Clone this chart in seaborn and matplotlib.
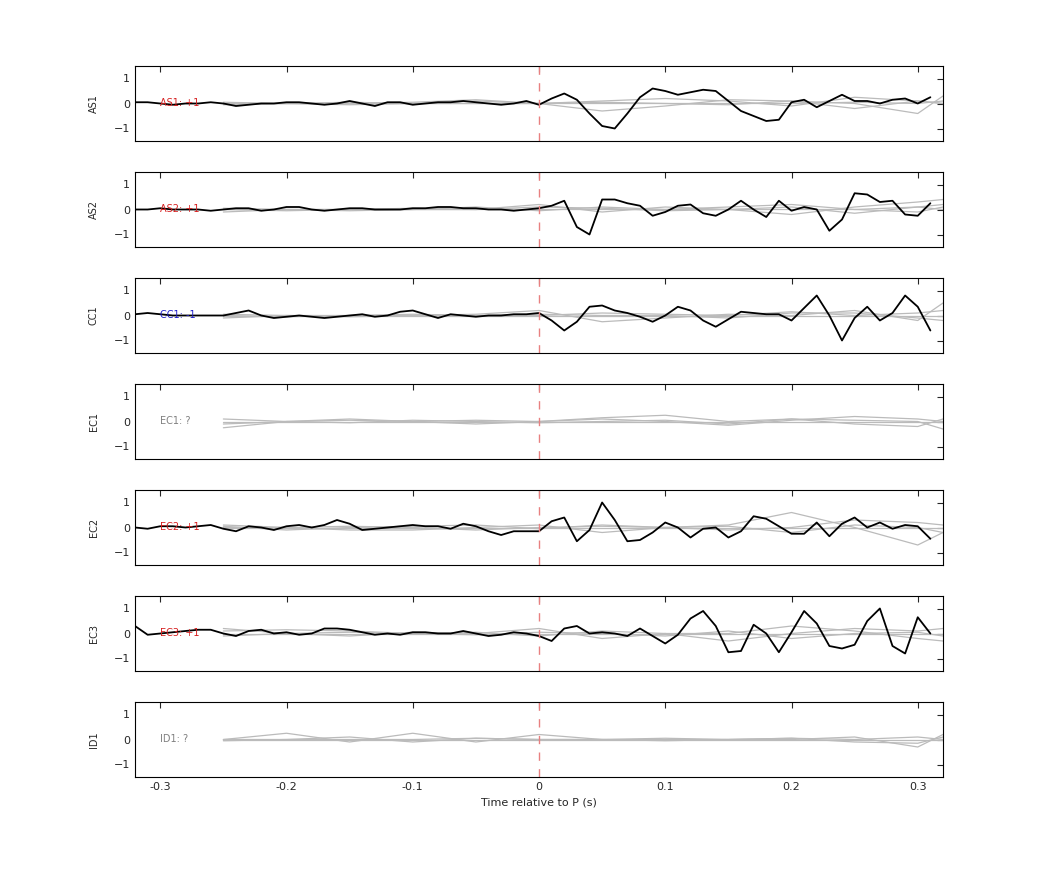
import numpy as np
import pandas as pd
import matplotlib
matplotlib.use("Agg")
import matplotlib.pyplot as plt
import seaborn as sns

sns.set_style("white")
plt.rcParams['font.family'] = ['DejaVu Sans']

stations = ["AS1", "AS2", "CC1", "EC1", "EC2", "EC3", "ID1"]
polarity = ["+1", "+1", "-1", "?", "+1", "+1", "?"]
pol_colors = {"+1": "#d62020", "-1": "#2020c8", "?": "#808080"}

t_black = [round(-0.32 + 0.01 * i, 2) for i in range(64)]
black = {
    "AS1": [0.05,0.05,0.0,-0.05,0.0,0.0,0.05,0.0,-0.1,-0.05,0.0,0.0,0.05,0.05,0.0,-0.05,0.0,0.1,0.0,-0.1,0.05,0.05,-0.05,0.0,0.05,0.05,0.1,0.05,0.0,-0.05,0.0,0.1,
            -0.05,0.2,0.4,0.15,-0.4,-0.9,-1.0,-0.4,0.25,0.6,0.5,0.35,0.45,0.55,0.5,0.1,-0.3,-0.5,-0.7,-0.65,0.05,0.15,-0.15,0.1,0.35,0.1,0.1,0.0,0.15,0.2,0.0,0.25],
    "AS2": [0.0,0.0,0.05,0.0,0.0,0.0,-0.05,0.0,0.05,0.05,-0.05,0.0,0.1,0.1,0.0,-0.05,0.0,0.05,0.05,0.0,0.0,0.0,0.05,0.05,0.1,0.1,0.05,0.05,0.0,0.0,-0.05,0.0,
            0.05,0.15,0.35,-0.7,-1.0,0.4,0.4,0.25,0.15,-0.25,-0.1,0.15,0.2,-0.15,-0.25,0.0,0.35,0.0,-0.3,0.35,-0.05,0.1,0.0,-0.85,-0.4,0.65,0.6,0.3,0.35,-0.2,-0.25,0.25],
    "CC1": [0.05,0.1,0.05,0.0,0.0,0.0,0.0,0.0,0.1,0.2,0.0,-0.1,-0.05,0.0,-0.05,-0.1,-0.05,0.0,0.05,-0.05,0.0,0.15,0.2,0.05,-0.1,0.05,0.0,-0.05,0.0,0.0,0.05,0.05,
            0.1,-0.2,-0.6,-0.25,0.35,0.4,0.2,0.1,-0.05,-0.25,0.0,0.35,0.2,-0.2,-0.45,-0.15,0.15,0.1,0.05,0.05,-0.2,0.3,0.8,0.0,-1.0,-0.1,0.35,-0.2,0.1,0.8,0.35,-0.6],
    "EC2": [0.0,-0.05,0.05,0.05,0.0,0.05,0.1,-0.05,-0.15,0.05,0.0,-0.1,0.05,0.1,0.0,0.1,0.3,0.15,-0.1,-0.05,0.0,0.05,0.1,0.05,0.05,-0.05,0.15,0.05,-0.15,-0.3,-0.15,-0.15,
            -0.15,0.25,0.4,-0.55,-0.1,1.0,0.3,-0.55,-0.5,-0.2,0.2,0.0,-0.4,-0.05,0.0,-0.4,-0.15,0.45,0.35,0.05,-0.25,-0.25,0.2,-0.35,0.15,0.4,0.0,0.2,-0.05,0.1,0.05,-0.45],
    "EC3": [0.3,-0.05,0.0,0.05,0.1,0.15,0.15,0.0,-0.1,0.1,0.15,0.0,0.05,-0.05,0.0,0.2,0.2,0.15,0.05,-0.05,0.0,-0.05,0.05,0.05,0.0,0.0,0.1,0.0,-0.1,-0.05,0.05,0.0,
            -0.1,-0.3,0.2,0.3,0.0,0.05,0.0,-0.1,0.2,-0.1,-0.4,-0.05,0.6,0.9,0.3,-0.75,-0.7,0.35,0.0,-0.75,0.05,0.9,0.4,-0.5,-0.6,-0.45,0.5,1.0,-0.5,-0.8,0.65,0.0],
}

t_gray = [-0.25, -0.20, -0.15, -0.10, -0.05, 0.0, 0.05, 0.10, 0.15, 0.20, 0.25, 0.30, 0.32]
gray = {
    "AS1": [[0.0,0.0,0.05,0.0,0.1,0.0,-0.3,-0.1,0.15,0.1,0.0,-0.4,0.3],
            [-0.05,0.0,0.0,0.05,0.15,0.0,0.1,0.2,0.1,-0.1,0.25,0.1,0.0],
            [0.0,0.0,0.0,0.0,0.0,0.0,0.0,0.0,0.0,0.0,0.05,0.0,0.1],
            [0.05,0.0,-0.05,0.0,0.0,0.0,0.05,0.0,-0.05,0.1,-0.2,0.1,0.0]],
    "AS2": [[-0.1,0.0,0.0,0.05,0.0,0.2,-0.1,0.1,0.0,-0.2,0.1,0.3,0.4],
            [0.0,-0.05,0.0,0.0,0.1,-0.05,0.1,0.0,0.1,0.2,0.0,-0.1,0.1],
            [0.0,0.0,0.0,0.0,0.0,0.0,0.0,0.0,0.0,0.0,0.0,0.1,0.0],
            [0.05,0.0,-0.05,0.0,0.0,0.1,0.05,-0.05,0.0,0.1,-0.15,0.1,0.2]],
    "CC1": [[-0.1,0.0,0.0,0.0,0.05,0.2,-0.25,-0.1,0.05,0.0,0.2,-0.2,0.5],
            [0.0,-0.05,0.0,0.05,0.0,0.0,0.1,0.05,0.0,0.15,0.0,0.1,0.2],
            [0.0,0.0,0.0,0.0,0.0,0.0,0.0,0.0,0.0,0.0,0.0,0.0,0.0],
            [0.05,0.0,-0.05,0.0,0.0,0.05,0.0,0.0,-0.1,0.1,0.1,-0.1,-0.2]],
    "EC1": [[-0.25,0.0,0.05,0.0,-0.1,0.0,0.15,0.25,0.0,0.1,0.05,0.0,-0.3],
            [-0.1,0.0,0.1,0.0,0.05,0.0,0.1,0.0,-0.15,0.05,0.2,0.1,0.0],
            [0.0,0.0,0.0,0.0,0.0,0.0,0.0,0.0,0.0,0.0,0.0,0.0,0.0],
            [0.1,0.0,-0.05,0.05,0.0,-0.05,0.0,0.05,-0.1,0.1,-0.1,-0.2,0.1]],
    "EC2": [[0.0,0.0,-0.1,-0.1,0.0,0.1,-0.2,0.0,0.1,0.6,0.0,-0.7,-0.2],
            [0.05,-0.1,0.0,0.05,0.1,-0.05,0.1,0.0,-0.1,0.0,0.3,0.2,0.1],
            [0.0,0.0,0.0,0.0,0.0,0.0,0.0,0.0,0.0,0.0,0.0,0.0,0.0],
            [0.1,0.0,0.05,0.0,-0.1,0.0,0.05,0.0,0.05,-0.2,0.1,0.0,-0.2]],
    "EC3": [[0.2,0.0,-0.1,0.05,0.0,0.2,-0.2,0.0,0.0,0.3,0.1,-0.2,-0.3],
            [0.1,0.15,0.1,0.0,0.05,-0.1,0.1,0.0,-0.3,0.0,0.2,0.1,0.2],
            [0.0,0.0,0.0,0.0,0.0,0.0,0.0,0.0,0.0,0.0,0.0,0.0,0.0],
            [-0.1,0.0,0.05,0.0,-0.05,0.05,0.0,-0.1,0.1,-0.2,0.0,0.05,-0.1]],
    "ID1": [[0.0,0.25,-0.1,0.25,-0.1,0.2,0.0,0.0,0.0,0.0,0.1,-0.3,0.2],
            [0.0,0.0,0.0,0.0,0.05,0.0,0.0,0.05,0.0,0.05,0.0,0.1,0.0],
            [0.0,0.0,0.0,0.0,0.0,0.0,0.0,0.0,0.0,0.0,0.0,0.0,0.0],
            [-0.05,0.0,0.1,-0.1,0.05,0.0,0.0,-0.05,0.0,0.05,-0.1,-0.15,0.1]],
}

fig = plt.figure(figsize=(10.42, 8.75), dpi=100)
left, width = 135 / 1042, 808 / 1042
h = 75 / 875
for i, st in enumerate(stations):
    top = 66 + 106 * i
    ax = fig.add_axes([left, 1 - (top + 75) / 875, width, h])
    for g in gray[st]:
        sns.lineplot(x=t_gray, y=g, ax=ax, color="#bbbbbb", lw=0.9)
    if st in black:
        sns.lineplot(x=t_black, y=black[st], ax=ax, color="black", lw=1.3)
    ax.axvline(0, color="#e88080", ls=(0, (6, 6)), lw=1)
    ax.set_xlim(-0.32, 0.32)
    ax.set_ylim(-1.5, 1.5)
    ax.set_yticks([-1, 0, 1])
    ax.set_xticks([-0.3, -0.2, -0.1, 0, 0.1, 0.2, 0.3])
    ax.tick_params(direction="in", top=True, right=True, labelsize=8, length=4)
    ax.set_ylabel(st, fontsize=7)
    ax.yaxis.set_label_coords(-0.045, 0.5)
    for s in ax.spines.values():
        s.set_color("black"); s.set_linewidth(0.8)
    ax.text(-0.30, 0, f"{st}: {polarity[i]}", color=pol_colors[polarity[i]], fontsize=7, va="center")
    if i < len(stations) - 1:
        ax.set_xticklabels([])
    else:
        ax.set_xticklabels(["-0.3", "-0.2", "-0.1", "0", "0.1", "0.2", "0.3"])
        ax.set_xlabel("Time relative to P (s)", fontsize=8)

fig.savefig("out.png", dpi=100)
